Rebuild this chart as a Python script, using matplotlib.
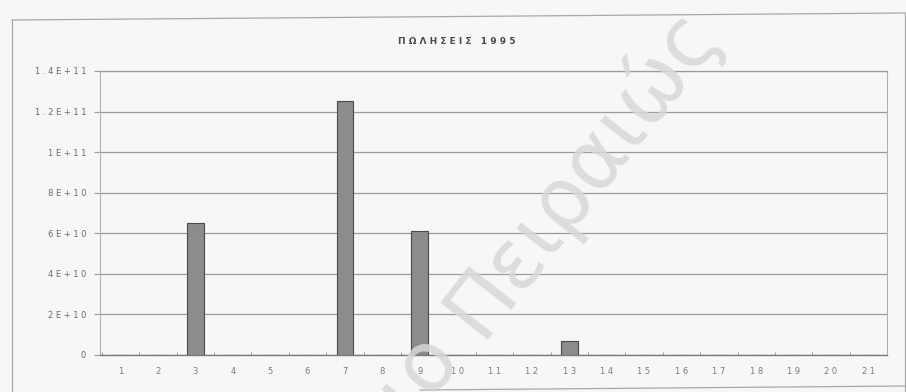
import matplotlib
matplotlib.use("Agg")
import matplotlib.pyplot as plt
from matplotlib.lines import Line2D
from matplotlib.ticker import MultipleLocator

# sales per code, 1995
codes = list(range(1, 22))
sales = [0, 0, 6.5e10, 0, 0, 0, 1.25e11, 0, 6.1e10, 0,
         0, 0, 0.7e10, 0, 0, 0, 0, 0, 0, 0, 0]
ytick_values = [0, 2e10, 4e10, 6e10, 8e10, 1e11, 1.2e11, 1.4e11]
ytick_labels = ["0", "2E+10", "4E+10", "6E+10", "8E+10", "1E+11", "1.2E+11", "1.4E+11"]
title = "ΠΩΛΗΣΕΙΣ 1995"


def spaced(s):
    return " ".join(s)


bg = "#f7f7f5"
grid_col = "#9a9a9a"

fig = plt.figure(figsize=(9.06, 3.92), dpi=100, facecolor=bg)
ax = fig.add_axes([0.1104, 0.0944, 0.8687, 0.7245], facecolor=bg)

ax.bar(codes, sales, width=0.45, color="#8c8c8c", edgecolor="#4a4a4a",
       linewidth=0.8, zorder=3)

ax.set_xlim(0.45, 21.5)
ax.set_ylim(0, 1.4e11)

ax.set_yticks(ytick_values)
ax.set_yticklabels([spaced(t) for t in ytick_labels])
ax.set_xticks(codes)
ax.set_xticklabels([spaced(str(c)) for c in codes])
ax.xaxis.set_minor_locator(MultipleLocator(1, offset=0.5))

ax.yaxis.grid(True, color=grid_col, linewidth=0.9, zorder=1)
ax.tick_params(axis="y", length=4, color=grid_col, pad=6, labelsize=6,
               labelcolor="#6a6a6a")
ax.tick_params(axis="x", which="major", length=0, pad=9, labelsize=6,
               labelcolor="#7a7a7a")
ax.tick_params(axis="x", which="minor", direction="in", length=2.5,
               color="#888888")

for side in ("left", "right"):
    ax.spines[side].set_color("#b0b0b0")
    ax.spines[side].set_linewidth(0.8)
ax.spines["top"].set_color(grid_col)
ax.spines["top"].set_linewidth(0.9)
ax.spines["bottom"].set_color("#7a7a7a")
ax.spines["bottom"].set_linewidth(1.0)

fig.text(0.504, 0.893, spaced(title), ha="center", va="center",
         fontsize=6.5, fontweight="bold", color="#4a4a4a")

# outer chart frame
W, H = 906, 392
frame = [((12, 906), (20, 13)), ((12, 12), (20, 392)),
         ((905, 905), (13, 392)), ((420, 906), (390, 386))]
for xs, ys in frame:
    fig.add_artist(Line2D([x / W for x in xs], [1 - y / H for y in ys],
                          color="#a8a8a8", linewidth=0.9))

# repository watermark, split at the word gap so both halves share a baseline
wm = dict(rotation=52, rotation_mode="anchor", va="baseline", fontsize=60,
          color="#d8d8d8", alpha=0.85, zorder=10)
wx, wy = 480 / W, 1 - 340 / H
fig.text(wx, wy, "Πανεπιστήμιο ", ha="right", **wm)
fig.text(wx, wy, "Πειραιώς", ha="left", **wm)

fig.savefig("out.png", dpi=100, facecolor=bg)
